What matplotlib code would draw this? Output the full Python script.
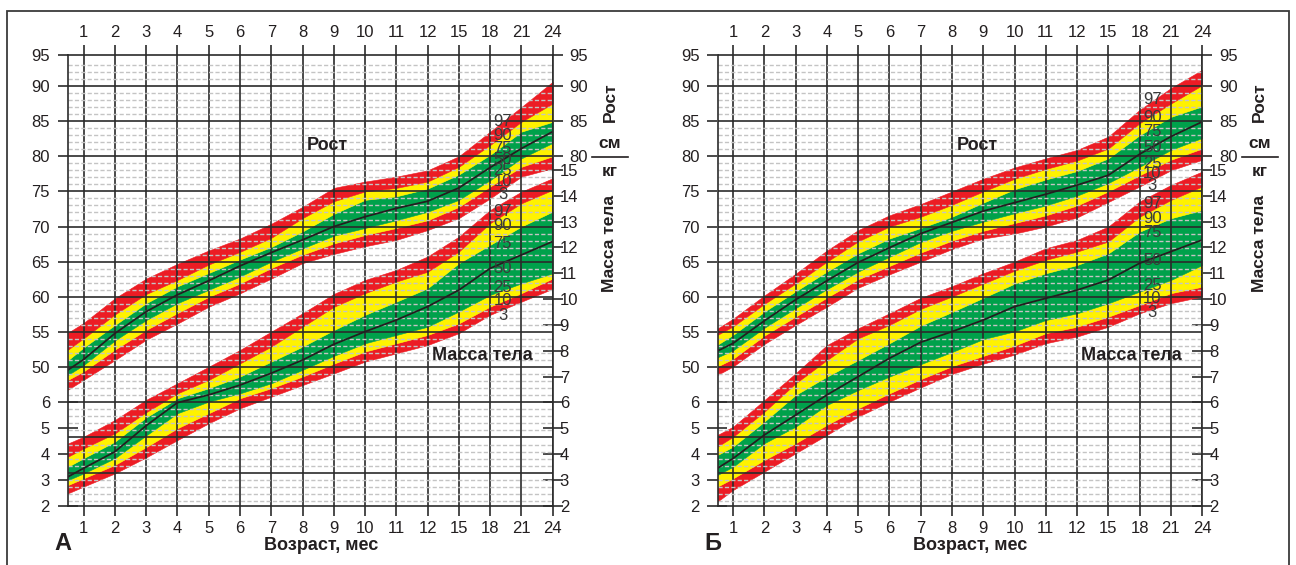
import numpy as np
import matplotlib
matplotlib.use("Agg")
import matplotlib.pyplot as plt
from matplotlib.patches import Rectangle
from matplotlib.lines import Line2D

plt.rcParams['font.family'] = ['Liberation Sans', 'DejaVu Sans']
plt.rcParams['text.color'] = '#231f20'

# ages (months); the first point sits on the left edge of the grid
ages = [0.5, 1, 2, 3, 4, 5, 6, 7, 8, 9, 10, 11, 12, 15, 18, 21, 24]
age_ticks = [1, 2, 3, 4, 5, 6, 7, 8, 9, 10, 11, 12, 15, 18, 21, 24]
age_labels = [str(a) for a in age_ticks]
pct_names = ['97', '90', '75', '50', '25', '10', '3']

# chart A - height, cm
a_h_p3 = [46.8, 48.2, 51.0, 53.9, 56.2, 58.6, 60.5, 62.6, 64.8, 66.1, 67.2, 68.1, 69.5, 71.2, 74.0, 77.1, 78.3]
a_h_p10 = [48.2, 49.4, 52.5, 55.3, 57.7, 60.0, 61.9, 64.1, 66.0, 67.6, 68.8, 69.8, 70.9, 72.8, 75.7, 78.5, 80.0]
a_h_p25 = [48.9, 50.3, 53.8, 56.7, 59.1, 61.0, 62.9, 65.0, 66.9, 68.7, 69.8, 70.9, 72.1, 73.8, 76.6, 79.7, 81.9]
a_h_p50 = [49.6, 51.1, 54.8, 57.9, 60.3, 62.3, 64.4, 66.3, 68.1, 70.0, 71.4, 72.6, 73.6, 75.5, 78.4, 81.1, 83.5]
a_h_p75 = [51.0, 52.8, 56.0, 59.1, 61.5, 63.4, 65.3, 67.1, 69.3, 71.8, 73.8, 74.3, 75.4, 77.4, 80.2, 83.5, 84.9]
a_h_p90 = [52.5, 54.1, 57.5, 60.4, 62.4, 64.6, 66.4, 68.4, 71.2, 73.6, 75.0, 75.5, 76.4, 78.5, 81.6, 84.9, 87.5]
a_h_p97 = [54.9, 56.3, 59.8, 62.6, 64.7, 66.6, 68.3, 70.4, 72.8, 75.5, 76.4, 77.1, 78.0, 80.0, 83.5, 87.0, 90.6]

# chart A - weight, kg
a_w_p3 = [2.48, 2.74, 3.25, 3.87, 4.54, 5.19, 5.77, 6.22, 6.67, 7.12, 7.58, 7.90, 8.22, 8.68, 9.39, 9.90, 10.40]
a_w_p10 = [2.80, 3.06, 3.58, 4.27, 5.00, 5.58, 6.16, 6.55, 7.00, 7.50, 7.97, 8.29, 8.61, 9.06, 9.71, 10.23, 10.80]
a_w_p25 = [2.99, 3.25, 3.84, 4.72, 5.58, 6.03, 6.35, 6.74, 7.26, 7.80, 8.29, 8.61, 8.93, 9.52, 10.16, 10.61, 11.00]
a_w_p50 = [3.12, 3.45, 4.09, 5.10, 5.99, 6.29, 6.67, 7.13, 7.64, 8.25, 8.74, 9.19, 9.71, 10.35, 11.19, 11.71, 12.23]
a_w_p75 = [3.51, 3.84, 4.48, 5.42, 6.16, 6.55, 7.00, 7.58, 8.16, 8.80, 9.39, 9.90, 10.42, 11.39, 12.10, 12.81, 13.39]
a_w_p90 = [3.90, 4.22, 4.80, 5.62, 6.35, 6.87, 7.51, 8.16, 8.93, 9.70, 10.23, 10.68, 11.06, 11.84, 12.94, 13.71, 14.23]
a_w_p97 = [4.41, 4.67, 5.32, 6.10, 6.74, 7.38, 8.03, 8.74, 9.45, 10.20, 10.74, 11.13, 11.65, 12.42, 13.45, 14.16, 14.68]

# chart Б - height, cm
b_h_p3 = [48.9, 50.1, 53.3, 56.0, 58.6, 61.3, 63.2, 65.0, 66.8, 68.3, 69.0, 70.0, 71.3, 73.5, 75.7, 78.0, 79.5]
b_h_p10 = [50.1, 51.2, 54.5, 57.2, 59.9, 62.5, 64.4, 66.3, 68.0, 69.4, 70.5, 71.6, 73.0, 75.0, 77.3, 79.5, 81.1]
b_h_p25 = [51.4, 52.4, 55.6, 58.4, 61.1, 63.6, 65.7, 67.8, 69.4, 70.7, 71.9, 73.0, 74.4, 76.2, 78.5, 80.9, 82.6]
b_h_p50 = [52.3, 53.4, 56.6, 59.6, 62.3, 64.9, 67.0, 69.0, 70.6, 72.2, 73.4, 74.6, 75.9, 77.3, 80.3, 82.8, 84.9]
b_h_p75 = [53.2, 54.6, 57.9, 60.8, 63.6, 66.2, 68.3, 69.8, 71.4, 73.4, 75.3, 76.7, 77.9, 79.7, 83.0, 85.6, 87.1]
b_h_p90 = [54.6, 55.8, 59.0, 61.9, 65.0, 67.9, 70.0, 71.4, 73.1, 75.0, 76.8, 78.2, 79.4, 81.1, 84.7, 87.5, 90.1]
b_h_p97 = [55.5, 56.9, 60.2, 63.3, 66.6, 69.5, 71.6, 73.2, 75.0, 76.8, 78.4, 79.7, 80.9, 82.8, 86.6, 89.7, 92.3]

# chart Б - weight, kg
b_w_p3 = [2.16, 2.61, 3.32, 4.03, 4.74, 5.45, 6.03, 6.58, 7.10, 7.50, 7.85, 8.29, 8.55, 8.93, 9.45, 9.84, 10.10]
b_w_p10 = [2.74, 3.06, 3.77, 4.42, 5.13, 5.77, 6.35, 6.90, 7.40, 7.80, 8.20, 8.68, 8.93, 9.32, 9.77, 10.23, 10.48]
b_w_p25 = [3.19, 3.51, 4.42, 5.06, 5.90, 6.48, 7.00, 7.48, 7.95, 8.45, 8.75, 9.19, 9.45, 9.84, 10.29, 10.74, 11.32]
b_w_p50 = [3.45, 3.83, 4.74, 5.51, 6.29, 7.00, 7.71, 8.33, 8.74, 9.19, 9.71, 10.03, 10.35, 10.74, 11.39, 11.84, 12.29]
b_w_p75 = [3.96, 4.29, 5.26, 6.29, 7.00, 7.64, 8.29, 8.97, 9.50, 10.05, 10.60, 11.00, 11.32, 11.77, 12.61, 13.13, 13.45]
b_w_p90 = [4.29, 4.67, 5.64, 6.74, 7.64, 8.48, 9.00, 9.62, 10.10, 10.60, 11.10, 11.52, 11.84, 12.23, 13.19, 13.84, 14.36]
b_w_p97 = [4.74, 5.06, 6.09, 7.13, 8.22, 8.87, 9.45, 10.05, 10.50, 11.00, 11.45, 11.97, 12.29, 12.81, 13.78, 14.42, 14.94]

RED = '#ec1c24'
YEL = '#fff200'
GRN = '#00a14b'
INK = '#231f20'
band_colors = [RED, YEL, GRN, GRN, YEL, RED]

W, H = 1296, 565
Y_BOT, Y_TOP = 30.3, 94.4       # cm at bottom / top edge of the grid
KG_STEP = 3.673                  # cm-units per kg on the weight scale


def kg2cm(w):
    return Y_BOT + (np.asarray(w, dtype=float) - 2) * KG_STEP


def cm2kg(c):
    return 2 + (np.asarray(c, dtype=float) - Y_BOT) / KG_STEP


def age_fwd(m):
    m = np.asarray(m, dtype=float)
    return np.where(m <= 12, m, 12 + (m - 12) / 3)


def age_inv(p):
    p = np.asarray(p, dtype=float)
    return np.where(p <= 12, p, 12 + (p - 12) * 3)


def draw_bands(ax, curves, convert=None):
    curves = [np.asarray(c, dtype=float) for c in curves]
    if convert is not None:
        curves = [convert(c) for c in curves]
    for lo, hi, col in zip(curves[:-1], curves[1:], band_colors):
        ax.fill_between(ages, lo, hi, facecolor=col, edgecolor=col, lw=0.4, zorder=1)
    ax.plot(ages, curves[3], color=INK, lw=1.3, zorder=4)


def make_chart(left_px, h_curves, w_curves, h_lbl_y, w_lbl_y):
    ax = fig.add_axes([left_px / W, 1 - 505.7 / H, 484.7 / W, 450.7 / H])
    ax.set_xscale('function', functions=(age_fwd, age_inv))
    ax.set_xlim(0.5, 24)
    ax.set_ylim(Y_BOT, Y_TOP)

    draw_bands(ax, h_curves)
    draw_bands(ax, w_curves, kg2cm)

    # grid
    ax.set_axisbelow(False)
    ax.set_xticks(age_ticks, age_labels)
    ax.set_yticks(np.arange(35, 91, 5))
    minor = [v for v in range(31, 94) if v % 5 and v < Y_TOP - 0.8]
    ax.set_yticks(minor, minor=True)
    ax.grid(axis='x', which='major', color='#2b2b2b', lw=1.2)
    ax.grid(axis='y', which='major', color='#2b2b2b', lw=1.2)
    ax.grid(axis='y', which='minor', color='#c4c4c4', lw=1.0, ls=(0, (3, 1.6)))
    ax.tick_params(axis='y', which='both', left=False, right=False,
                   labelleft=False, labelright=False)
    ax.tick_params(axis='x', which='major', direction='out', length=7, width=1.2,
                   color='#2b2b2b', labelsize=12, pad=4, labelcolor=INK,
                   top=True, labeltop=True, bottom=True, labelbottom=True)
    for s in ax.spines.values():
        s.set_color('#2b2b2b')
        s.set_linewidth(1.2)
        s.set_zorder(5)

    cm_l = ax.secondary_yaxis('left')
    cm_l.set_yticks(list(range(50, 91, 5)) + [Y_TOP],
                    [str(v) for v in range(50, 91, 5)] + ['95'])
    cm_l.tick_params(direction='out', length=7, width=1.2, color='#2b2b2b',
                     labelsize=12, pad=6, labelcolor=INK)
    kg_l = ax.secondary_yaxis('left', functions=(cm2kg, kg2cm))
    kg_l.set_yticks([2, 3, 4, 5, 6], ['2', '3', '4', '5', '6'])
    kg_l.tick_params(direction='inout', length=14, width=1.2, color='#2b2b2b',
                     labelsize=12, pad=6, labelcolor=INK)

    cm_r = ax.secondary_yaxis('right')
    cm_r.set_yticks([80, 85, 90, Y_TOP], ['80', '85', '90', '95'])
    cm_r.tick_params(direction='out', length=7, width=1.2, color='#2b2b2b',
                     labelsize=12, pad=5, labelcolor=INK)
    kg_r = ax.secondary_yaxis('right', functions=(cm2kg, kg2cm))
    kg_r.set_yticks(list(range(2, 16)), [str(v) for v in range(2, 16)])
    kg_r.tick_params(direction='inout', length=14, width=1.2, color='#2b2b2b',
                     labelsize=12, pad=-2, labelcolor=INK)
    for sec in (cm_l, kg_l, cm_r, kg_r):
        for s in sec.spines.values():
            s.set_visible(False)

    # percentile labels over the 18-month line
    for name, y in zip(pct_names, h_lbl_y):
        ax.text(19.2, y, name, ha='center', va='center', fontsize=12,
                color='#3a3a3a', zorder=6)
    for name, y in zip(pct_names, w_lbl_y):
        ax.text(19.2, y, name, ha='center', va='center', fontsize=12,
                color='#3a3a3a', zorder=6)
    return ax


fig = plt.figure(figsize=(W / 100, H / 100), dpi=100)

make_chart(68, [a_h_p3, a_h_p10, a_h_p25, a_h_p50, a_h_p75, a_h_p90, a_h_p97],
           [a_w_p3, a_w_p10, a_w_p25, a_w_p50, a_w_p75, a_w_p90, a_w_p97],
           [84.9, 82.9, 81.1, 79.6, 78.0, 76.4, 74.6],
           [72.2, 70.1, 67.6, 64.1, 61.3, 59.5, 57.4])
make_chart(717.5, [b_h_p3, b_h_p10, b_h_p25, b_h_p50, b_h_p75, b_h_p90, b_h_p97],
           [b_w_p3, b_w_p10, b_w_p25, b_w_p50, b_w_p75, b_w_p90, b_w_p97],
           [88.1, 85.5, 83.5, 81.3, 79.0, 77.6, 75.9],
           [73.3, 71.2, 69.1, 65.2, 61.6, 59.7, 57.8])


def ftext(x, y, s, **kw):
    fig.text(x / W, 1 - y / H, s, **kw)


for dx, letter in ((0, 'А'), (649.5, 'Б')):
    ftext(307 + dx, 145, 'Рост', fontsize=13, fontweight='bold', ha='left', va='center')
    ftext(482 + dx, 355, 'Масса тела', fontsize=13, fontweight='bold', ha='center', va='center')
    ftext(321 + dx, 546, 'Возраст, мес', fontsize=13, fontweight='bold', ha='center', va='center')
    ftext(63 + dx, 543, letter, fontsize=17, fontweight='bold', ha='center', va='center')
    ftext(610 + dx, 102, 'Рост', fontsize=12.5, fontweight='bold', rotation=90,
          ha='center', va='center')
    ftext(610 + dx, 143, 'см', fontsize=12.5, fontweight='bold', ha='center', va='center')
    fig.add_artist(Line2D([(592 + dx) / W, (628 + dx) / W], [1 - 156.7 / H, 1 - 156.7 / H],
                          color=INK, lw=1.2))
    ftext(610 + dx, 171, 'кг', fontsize=12.5, fontweight='bold', ha='center', va='center')
    ftext(610 + dx, 243, 'Масса тела', fontsize=12.5, fontweight='bold', rotation=90,
          ha='center', va='center')

# outer frame
fig.add_artist(Rectangle((7 / W, -0.02), (1289 - 7) / W, 1.02 - 11 / H, fill=False,
                         edgecolor='#3a3a3a', lw=1.3))

fig.savefig('out.png', dpi=100)
